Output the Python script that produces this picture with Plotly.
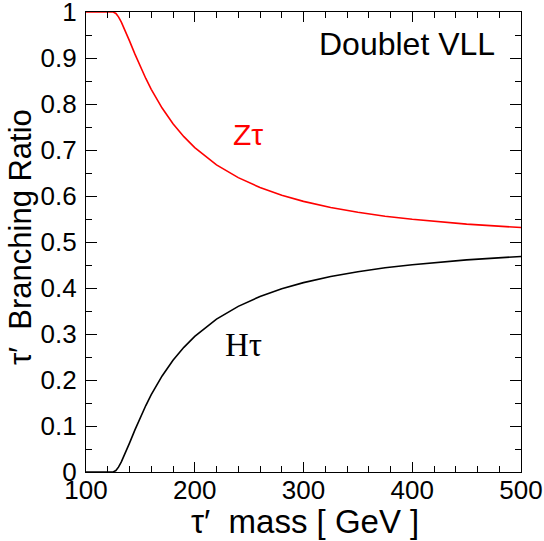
import plotly.graph_objects as go

# tau' mass [GeV]
mass = [100, 110, 120, 125, 127.5, 130, 132.5, 135, 140, 145, 150, 155, 160, 170, 180, 190,
        200, 220, 240, 260, 280, 300, 325, 350, 375, 400, 450, 500]
# Branching ratio tau' -> H tau
br_h = [0.0, 0.0, 0.0, 0.0, 0.0031, 0.0110, 0.0219, 0.0347, 0.0629, 0.0916, 0.1190, 0.1445,
        0.1680, 0.2088, 0.2428, 0.2710, 0.2949, 0.3323, 0.3601, 0.3815, 0.3983, 0.4117,
        0.4250, 0.4355, 0.4439, 0.4507, 0.4612, 0.4685]
# Branching ratio tau' -> Z tau
br_z = [1.0, 1.0, 1.0, 1.0, 0.9969, 0.9890, 0.9781, 0.9653, 0.9371, 0.9084, 0.8810, 0.8555,
        0.8320, 0.7912, 0.7572, 0.7290, 0.7051, 0.6677, 0.6399, 0.6185, 0.6017, 0.5883,
        0.5750, 0.5645, 0.5561, 0.5493, 0.5388, 0.5315]

x_range = [100, 500]
y_range = [0, 1]

FONT = "Liberation Sans, Arial, Helvetica, sans-serif"
SERIF = "Liberation Serif, Times New Roman, serif"

fig = go.Figure()
fig.add_trace(go.Scatter(x=mass, y=br_z, mode="lines",
                         line=dict(color="#ff0000", width=1.6), showlegend=False))
fig.add_trace(go.Scatter(x=mass, y=br_h, mode="lines",
                         line=dict(color="#000000", width=1.6), showlegend=False))

axis_common = dict(
    showgrid=False, zeroline=False, showline=True, linecolor="black", linewidth=1.2,
    mirror="ticks", ticks="inside", tickcolor="black", tickwidth=1.2, automargin=False,
    ticklabeloverflow="allow",
    tickfont=dict(family=FONT, size=26, color="black"),
)

fig.update_xaxes(range=x_range, dtick=100, tick0=100, ticklen=10,
                 minor=dict(dtick=20, ticklen=6, ticks="inside", tickcolor="black", tickwidth=1.2),
                 ticklabelstandoff=-5, **axis_common)
fig.update_yaxes(range=y_range, dtick=0.1, tick0=0, ticklen=11,
                 minor=dict(dtick=0.05, ticklen=6, ticks="inside", tickcolor="black", tickwidth=1.2),
                 ticklabelstandoff=3, tickformat="~g", **axis_common)

L, R, T, B = 86, 23, 12, 69
W, H = 544, 541
pw, ph = W - L - R, H - T - B

def px(xp):
    return (xp - L) / pw

def py(yp):
    return (H - B - yp) / ph

annotations = [
    dict(text="Doublet VLL", x=px(497), y=py(44), xanchor="right", yanchor="middle",
         font=dict(family=FONT, size=32, color="black")),
    dict(text="Zτ", x=px(248), y=py(134), xanchor="center", yanchor="middle",
         font=dict(family=FONT, size=30, color="#ff0000")),
    dict(text="Hτ", x=px(243), y=py(345), xanchor="center", yanchor="middle",
         font=dict(family=SERIF, size=33, color="black")),
    dict(text="τ′  mass [ GeV ]", x=px(305), y=py(521), xanchor="center", yanchor="middle",
         font=dict(family=FONT, size=33, color="black")),
    dict(text="τ′  Branching Ratio", x=px(21), y=py(237), xanchor="center", yanchor="middle",
         textangle=-90, font=dict(family=FONT, size=31, color="black")),
]
for a in annotations:
    a.update(xref="paper", yref="paper", showarrow=False)

fig.update_layout(
    width=W, height=H,
    margin=dict(l=L, r=R, t=T, b=B),
    paper_bgcolor="white", plot_bgcolor="white",
    annotations=annotations,
)

fig.write_html("out.html")
